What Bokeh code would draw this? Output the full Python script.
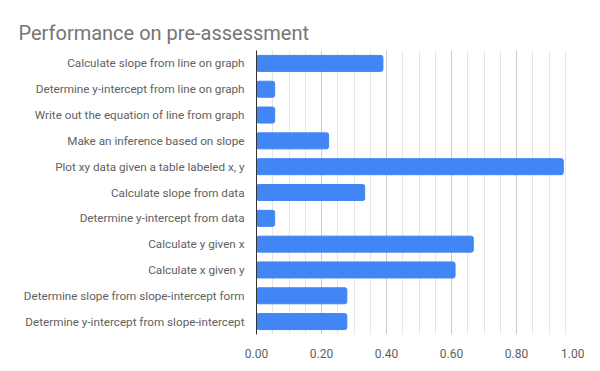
from bokeh.plotting import figure
from bokeh.models import FactorRange, Range1d, FixedTicker, Title, NumeralTickFormatter
from bokeh.embed import file_html
from bokeh.resources import INLINE

categories = [
    "Calculate slope from line on graph",
    "Determine y-intercept from line on graph",
    "Write out the equation of line from graph",
    "Make an inference based on slope",
    "Plot xy data given a table labeled x, y",
    "Calculate slope from data",
    "Determine y-intercept from data",
    "Calculate y given x",
    "Calculate x given y",
    "Determine slope from slope-intercept form",
    "Determine y-intercept from slope-intercept",
]
scores = [0.389, 0.056, 0.056, 0.222, 0.944, 0.333, 0.056, 0.667, 0.611, 0.278, 0.278]
x_ticks = [0.0, 0.2, 0.4, 0.6, 0.8, 1.0]
minor_ticks = [0.05, 0.1, 0.15, 0.25, 0.3, 0.35, 0.45, 0.5, 0.55, 0.65, 0.7, 0.75, 0.85, 0.9, 0.95]

FONT = "Roboto"

p = figure(
    width=584, height=355,
    y_range=FactorRange(*list(reversed(categories)), range_padding=0),
    x_range=Range1d(0, 1.0),
    output_backend="svg", toolbar_location=None,
    frame_width=325, frame_height=284,
    min_border_left=256, min_border_right=3, min_border_top=50, min_border_bottom=21,
)
p.title.visible = False
t = Title(text="Performance on pre-assessment", text_font=FONT, text_font_size="20px",
          text_color="#757575", text_font_style="normal", align="left", offset=-238, standoff=12)
p.add_layout(t, "above")

p.hbar(y=categories, right=scores, left=0, height=0.62, color="#4285f4", border_radius=2)

p.outline_line_color = None
p.background_fill_color = "white"
p.border_fill_color = "white"

# x axis
p.xaxis.ticker = FixedTicker(ticks=x_ticks, minor_ticks=minor_ticks)
p.xaxis.formatter = NumeralTickFormatter(format="0.00")
p.xaxis.axis_line_color = None
p.xaxis.major_tick_line_color = None
p.xaxis.minor_tick_line_color = None
p.xaxis.major_label_text_font = FONT
p.xaxis.major_label_text_font_size = "12px"
p.xaxis.major_label_text_color = "#616161"
p.xaxis.major_label_standoff = 8

# y axis
p.yaxis.axis_line_color = "#333333"
p.yaxis.axis_line_width = 1
p.yaxis.major_tick_line_color = None
p.yaxis.minor_tick_line_color = None
p.yaxis.major_label_text_font = FONT
p.yaxis.major_label_text_font_size = "11.7px"
p.yaxis.major_label_text_color = "#616161"
p.yaxis.major_label_standoff = 6

p.xgrid.grid_line_color = "#cccccc"
p.xgrid.minor_grid_line_color = "#e6e6e6"
p.ygrid.grid_line_color = None

open("out.html", "w").write(file_html(p, INLINE))
